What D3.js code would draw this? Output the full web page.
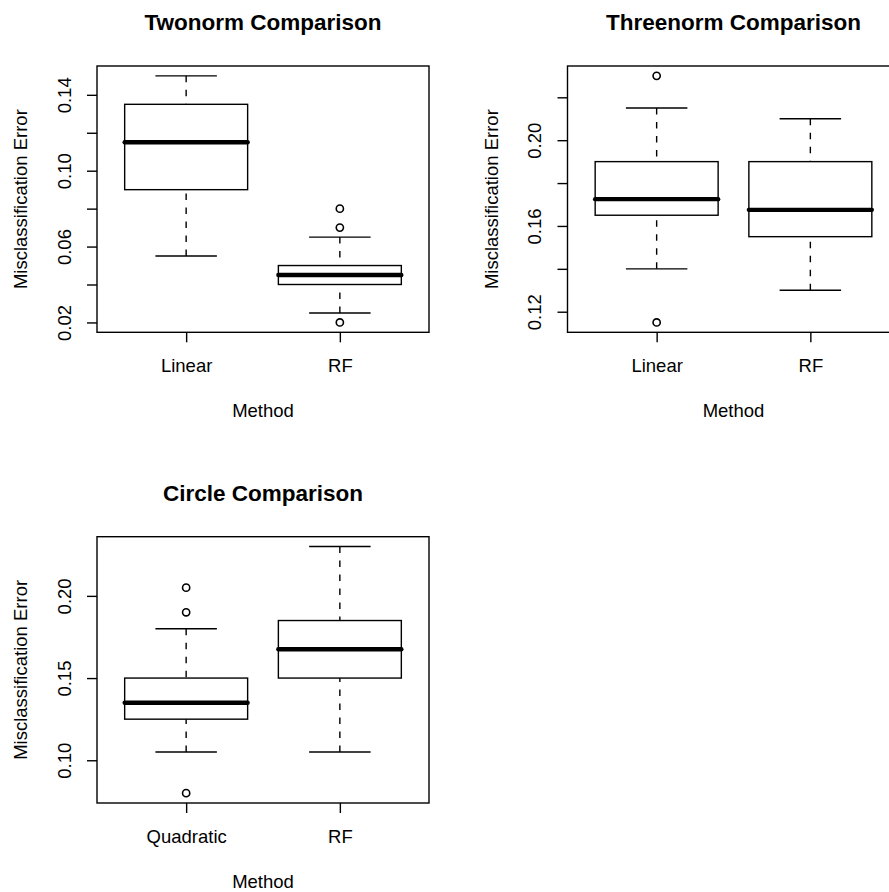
<!DOCTYPE html>
<html>
<head>
<meta charset="utf-8">
<script src="https://cdn.jsdelivr.net/npm/d3@7"></script>
<style>
  html, body { margin: 0; padding: 0; background: #fff; overflow: hidden; }
  text { font-family: "Liberation Sans", Arial, sans-serif; fill: #000; }
</style>
</head>
<body>
<script>
// ---- data ----
// stats per method: [lower whisker, Q1, median, Q3, upper whisker]
const twonormMethods = ['Linear', 'RF'];
const twonormStats = [[0.055, 0.09, 0.115, 0.135, 0.15], [0.025, 0.04, 0.045, 0.05, 0.065]];
const twonormOutliers = [[], [0.07, 0.08, 0.02]];
const twonormTicks = [0.02, 0.04, 0.06, 0.08, 0.10, 0.12, 0.14];
const twonormLabels = ['0.02', '', '0.06', '', '0.10', '', '0.14'];

const threenormMethods = ['Linear', 'RF'];
const threenormStats = [[0.14, 0.165, 0.1725, 0.19, 0.215], [0.13, 0.155, 0.1675, 0.19, 0.21]];
const threenormOutliers = [[0.23, 0.115], []];
const threenormTicks = [0.12, 0.14, 0.16, 0.18, 0.20, 0.22];
const threenormLabels = ['0.12', '', '0.16', '', '0.20', ''];

const circleMethods = ['Quadratic', 'RF'];
const circleStats = [[0.105, 0.125, 0.135, 0.15, 0.18], [0.105, 0.15, 0.1675, 0.185, 0.23]];
const circleOutliers = [[0.205, 0.19, 0.08], []];
const circleTicks = [0.10, 0.15, 0.20];
const circleLabels = ['0.10', '0.15', '0.20'];

const titles = ['Twonorm Comparison', 'Threenorm Comparison', 'Circle Comparison'];

// ---- layout ----
const [svgWidth, svgHeight] = [889, 892];
const margin = { left: 97, top: 66 };
const [width, height] = [332, 266.3];
const panelOrigins = [[0, 0], [470.5, 0], [0, 470.7]];
const fontSize = 18.5;

function translate(x, y) {
    return 'translate(' + x + ',' + y + ')';
}

const svg = d3.select('body').append('svg')
    .attr('width', svgWidth)
    .attr('height', svgHeight);

const panels = [
    { methods: twonormMethods, stats: twonormStats, outliers: twonormOutliers, ticks: twonormTicks, labels: twonormLabels },
    { methods: threenormMethods, stats: threenormStats, outliers: threenormOutliers, ticks: threenormTicks, labels: threenormLabels },
    { methods: circleMethods, stats: circleStats, outliers: circleOutliers, ticks: circleTicks, labels: circleLabels }
];

panels.forEach(function (p, i) {
    const g = svg.append('g')
        .attr('transform', translate(panelOrigins[i][0] + margin.left, panelOrigins[i][1] + margin.top));

    // R style: extend ranges by 4% on each side
    const allVals = p.stats.flat().concat(p.outliers.flat());
    const [lo, hi] = d3.extent(allVals);
    const pad = (hi - lo) * 0.04;
    const yScale = d3.scaleLinear().domain([lo - pad, hi + pad]).range([height, 0]);
    const xScale = d3.scaleLinear().domain([0.5 - 0.08, p.methods.length + 0.5 + 0.08]).range([0, width]);

    const boxW = 0.8, capW = 0.4;

    p.stats.forEach(function (s, j) {
        const c = j + 1;
        const box = g.append('g').attr('class', 'box');
        // whiskers (dashed), drawn from the whisker end towards the box
        [[s[0], s[1]], [s[4], s[3]]].forEach(function (w) {
            box.append('line')
                .attr('x1', xScale(c)).attr('x2', xScale(c))
                .attr('y1', yScale(w[0])).attr('y2', yScale(w[1]))
                .attr('stroke', '#000').attr('stroke-width', 1.4)
                .attr('stroke-dasharray', '6.5,7.5');
        });
        // staples
        [s[0], s[4]].forEach(function (v) {
            box.append('line')
                .attr('x1', xScale(c - capW / 2)).attr('x2', xScale(c + capW / 2))
                .attr('y1', yScale(v)).attr('y2', yScale(v))
                .attr('stroke', '#000').attr('stroke-width', 1.4);
        });
        // box
        box.append('rect')
            .attr('x', xScale(c - boxW / 2))
            .attr('y', yScale(s[3]))
            .attr('width', xScale(c + boxW / 2) - xScale(c - boxW / 2))
            .attr('height', yScale(s[1]) - yScale(s[3]))
            .attr('fill', '#fff')
            .attr('stroke', '#000').attr('stroke-width', 1.4);
        // median
        box.append('line')
            .attr('x1', xScale(c - boxW / 2)).attr('x2', xScale(c + boxW / 2))
            .attr('y1', yScale(s[2])).attr('y2', yScale(s[2]))
            .attr('stroke', '#000').attr('stroke-width', 4.4)
            .attr('stroke-linecap', 'round');
        // outliers
        box.selectAll('.out')
            .data(p.outliers[j])
            .enter().append('circle')
            .attr('class', 'out')
            .attr('cx', xScale(c))
            .attr('cy', d => yScale(d))
            .attr('r', 3.6)
            .attr('fill', 'none')
            .attr('stroke', '#000').attr('stroke-width', 1.6);
    });

    // frame
    g.append('rect')
        .attr('width', width).attr('height', height)
        .attr('fill', 'none')
        .attr('stroke', '#000').attr('stroke-width', 1.4);

    // y axis
    const yAxis = g.append('g').attr('class', 'yAxis')
        .call(d3.axisLeft(yScale)
            .tickValues(p.ticks)
            .tickSize(10)
            .tickFormat((d, k) => p.labels[k]));
    yAxis.select('.domain').remove();
    yAxis.selectAll('line').attr('stroke', '#000').attr('stroke-width', 1.4);
    yAxis.selectAll('text')
        .attr('x', null).attr('dy', null)
        .attr('transform', 'translate(-26.5,0) rotate(-90)')
        .attr('text-anchor', 'middle')
        .style('font-size', fontSize + 'px')
        .style('font-family', '"Liberation Sans", Arial, sans-serif')
        .attr('fill', '#000');

    // x axis
    const xAxis = g.append('g').attr('class', 'xAxis')
        .attr('transform', translate(0, height))
        .call(d3.axisBottom(xScale)
            .tickValues(d3.range(1, p.methods.length + 1))
            .tickSize(10)
            .tickFormat((d, k) => p.methods[k]));
    xAxis.select('.domain').remove();
    xAxis.selectAll('line').attr('stroke', '#000').attr('stroke-width', 1.4);
    xAxis.selectAll('text')
        .attr('y', 40).attr('dy', null)
        .style('font-size', fontSize + 'px')
        .style('font-family', '"Liberation Sans", Arial, sans-serif')
        .attr('fill', '#000');

    // axis titles
    g.append('text')
        .attr('x', width / 2).attr('y', height + 85)
        .attr('text-anchor', 'middle')
        .style('font-size', fontSize + 'px')
        .text('Method');
    g.append('text')
        .attr('transform', translate(-70, height / 2) + ' rotate(-90)')
        .attr('text-anchor', 'middle')
        .style('font-size', fontSize + 'px')
        .text('Misclassification Error');

    // main title
    g.append('text')
        .attr('x', width / 2).attr('y', 30 - margin.top)
        .attr('text-anchor', 'middle')
        .style('font-size', '22.5px')
        .style('font-weight', 'bold')
        .text(titles[i]);
});
</script>
</body>
</html>
